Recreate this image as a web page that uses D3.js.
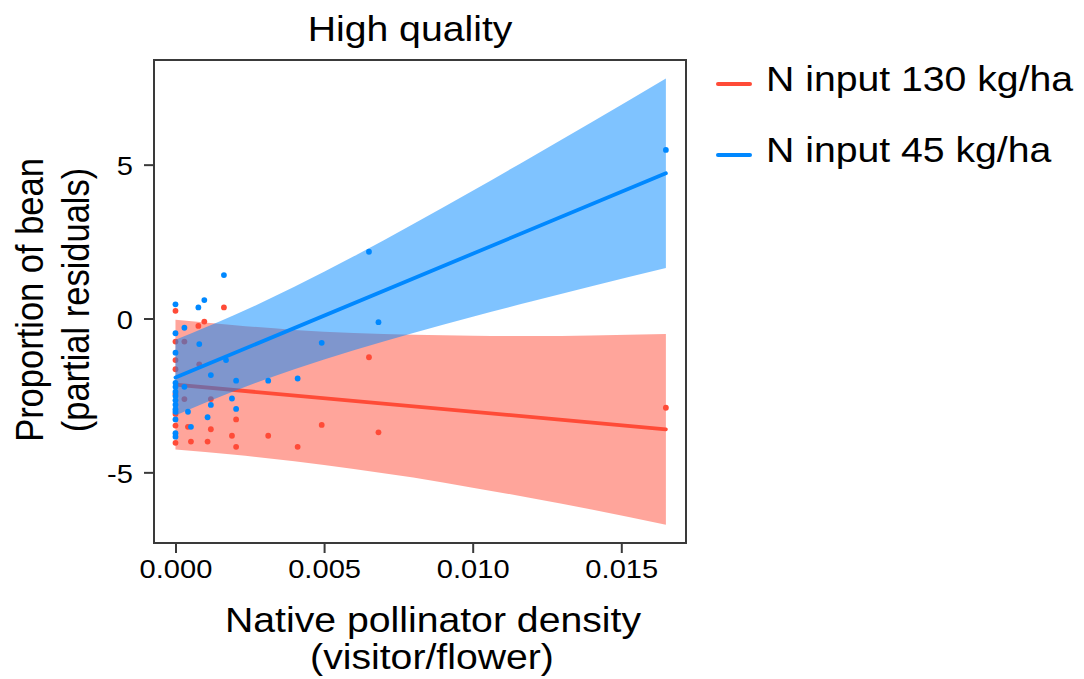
<!DOCTYPE html>
<html>
<head>
<meta charset="utf-8">
<script src="https://cdn.jsdelivr.net/npm/d3@7"></script>
<style>
  html, body { margin: 0; padding: 0; background: #ffffff; }
  svg { display: block; }
  text { font-family: "Liberation Sans", Arial, Helvetica, sans-serif; fill: #000; }
</style>
</head>
<body>
<svg id="chart" width="1084" height="679"></svg>
<script>
// ---- Data ----------------------------------------------------------------
const seriesNames = ["N input 130 kg/ha", "N input 45 kg/ha"];
const seriesColors = ["#FF4B37", "#0088FF"];

// Fitted lines over the observed density range
const fitX = [0, 0.0165];
const fitHigh = [-2.15, -3.60];   // N input 130 kg/ha
const fitLow = [-1.92, 4.72];     // N input 45 kg/ha

// Confidence band edges sampled along the density axis
const bandX = [0, 0.002, 0.004, 0.006, 0.008, 0.010, 0.012, 0.014, 0.0165];
const bandHighUpper = [-0.04, -0.22, -0.37, -0.47, -0.53, -0.56, -0.57, -0.55, -0.50];
const bandHighLower = [-4.26, -4.43, -4.64, -4.89, -5.17, -5.50, -5.84, -6.21, -6.70];
const bandLowUpper = [-0.69, 0.12, 1.03, 2.02, 3.07, 4.15, 5.26, 6.38, 7.80];
const bandLowLower = [-3.15, -2.35, -1.65, -1.03, -0.47, 0.06, 0.56, 1.05, 1.64];

// Partial residuals, N input 130 kg/ha
const highX = [0, 0, 0, 0, 0, 0, 0, 0,
  0.0003, 0.0003, 0.00042, 0.00052, 0.00077, 0.0008, 0.00097, 0.00108,
  0.00119, 0.00119, 0.00163, 0.0019, 0.00204, 0.00204, 0.00312, 0.00411,
  0.00492, 0.00651, 0.00683, 0.0165];
const highY = [0.25, -0.75, -1.35, -1.65, -2.45, -3.10, -3.48, -4.04,
  -0.75, -2.62, -3.52, -4.00, -0.24, -1.49, -0.10, -4.00,
  -2.62, -3.60, 0.36, -3.81, -3.28, -4.17, -3.81, -4.17,
  -3.46, -1.26, -3.70, -2.90];

// Partial residuals, N input 45 kg/ha
const lowX = [0, 0, 0, 0, 0, 0, 0, 0, 0, 0, 0, 0, 0, 0,
  0.0003, 0.0003, 0.00042, 0.00052, 0.00077, 0.0008, 0.00097, 0.00108,
  0.00119, 0.00119, 0.00163, 0.0017, 0.0019, 0.00204, 0.00204, 0.00312,
  0.00411, 0.00492, 0.00651, 0.00683, 0.0165];
const lowY = [0.46, -0.48, -1.11, -2.09, -2.22, -2.38, -2.52, -2.66, -2.80, -2.95, -3.03, -3.28, -3.73, -3.84,
  -0.30, -2.22, -3.03, -3.52, 0.36, -0.83, 0.60, -3.21,
  -1.84, -2.81, 1.41, -1.35, -2.60, -2.02, -2.94, -2.02,
  -1.95, -0.79, 2.17, -0.12, 5.48];

const xTicks = [0, 0.005, 0.010, 0.015];
const yTicks = [-5, 0, 5];

// ---- Layout --------------------------------------------------------------
const frame = { left: 154, right: 686, top: 60, bottom: 543 };
const stretch = 1.12;           // horizontal glyph stretch used for all labels
const axisColor = "#3a3a3a";

const svg = d3.select("#chart");

const x = d3.scaleLinear()
  .domain([-0.000723, 0.017177])
  .range([frame.left, frame.right]);
const y = d3.scaleLinear()
  .domain([-7.296, 8.401])
  .range([frame.bottom, frame.top]);

function label(parent, str, px, py, size, anchor) {
  return parent.append("text")
    .attr("transform", `translate(${px},${py}) scale(${stretch},1)`)
    .attr("text-anchor", anchor)
    .style("font-size", size + "px")
    .text(str);
}

const zipXY = (xs, ys) => xs.map((v, i) => [v, ys[i]]);

const area = d3.area()
  .x(d => x(d[0]))
  .y0(d => y(d[1]))
  .y1(d => y(d[2]))
  .curve(d3.curveMonotoneX);
const line = d3.line()
  .x(d => x(d[0]))
  .y(d => y(d[1]));

const series = [
  { color: seriesColors[0], band: bandX.map((v, i) => [v, bandHighLower[i], bandHighUpper[i]]),
    fit: zipXY(fitX, fitHigh), pts: zipXY(highX, highY) },
  { color: seriesColors[1], band: bandX.map((v, i) => [v, bandLowLower[i], bandLowUpper[i]]),
    fit: zipXY(fitX, fitLow), pts: zipXY(lowX, lowY) }
];

const plot = svg.append("g");

// Each group: band, fitted line, residual points (later group overlays earlier)
series.forEach(s => {
  plot.append("path")
    .datum(s.band)
    .attr("d", area)
    .attr("fill", s.color)
    .attr("fill-opacity", 0.5);
  plot.append("path")
    .datum(s.fit)
    .attr("d", line)
    .attr("fill", "none")
    .attr("stroke", s.color)
    .attr("stroke-width", 3.8)
    .attr("stroke-linecap", "round");
  plot.selectAll(null)
    .data(s.pts)
    .enter()
    .append("circle")
    .attr("cx", d => x(d[0]))
    .attr("cy", d => y(d[1]))
    .attr("r", 2.9)
    .attr("fill", s.color);
});

// Frame
svg.append("rect")
  .attr("x", frame.left)
  .attr("y", frame.top)
  .attr("width", frame.right - frame.left)
  .attr("height", frame.bottom - frame.top)
  .attr("fill", "none")
  .attr("stroke", axisColor)
  .attr("stroke-width", 2);

// Axes
const xAxis = d3.axisBottom(x)
  .tickValues(xTicks)
  .tickSize(10)
  .tickFormat(d3.format(".3f"));
const gx = svg.append("g")
  .attr("transform", `translate(0,${frame.bottom})`)
  .call(xAxis);
gx.select(".domain").remove();
gx.selectAll(".tick line").attr("stroke", axisColor).attr("stroke-width", 2);
gx.selectAll(".tick text")
  .attr("y", null).attr("dy", null)
  .attr("fill", "#000")
  .attr("font-family", null)
  .attr("transform", `translate(0,35) scale(${stretch},1)`)
  .style("font-size", "26px");

const yAxis = d3.axisLeft(y)
  .tickValues(yTicks)
  .tickSize(10)
  .tickFormat(d => String(d));
const gy = svg.append("g")
  .attr("transform", `translate(${frame.left},0)`)
  .call(yAxis);
gy.select(".domain").remove();
gy.selectAll(".tick line").attr("stroke", axisColor).attr("stroke-width", 2);
gy.selectAll(".tick text")
  .attr("x", null).attr("dy", null)
  .attr("fill", "#000")
  .attr("font-family", null)
  .attr("text-anchor", "end")
  .attr("transform", `translate(-21,10) scale(${stretch},1)`)
  .style("font-size", "26px");

// Titles
label(svg, "High quality", 410, 41, 35, "middle");
label(svg, "Native pollinator density", 433, 632, 35, "middle");
label(svg, "(visitor/flower)", 432, 669, 35, "middle");

const yTitle = svg.append("g")
  .attr("transform", `translate(0,300)`);
[["Proportion of bean", 43], ["(partial residuals)", 89]].forEach(([t, bx]) => {
  yTitle.append("text")
    .attr("transform", `translate(${bx},0) rotate(-90) scale(1,${stretch})`)
    .attr("text-anchor", "middle")
    .style("font-size", "34.5px")
    .text(t);
});

// Legend
const legend = svg.append("g");
const legendRows = [84, 155];
seriesNames.forEach((name, i) => {
  legend.append("line")
    .attr("x1", 718).attr("x2", 750)
    .attr("y1", legendRows[i]).attr("y2", legendRows[i])
    .attr("stroke", seriesColors[i])
    .attr("stroke-width", 4)
    .attr("stroke-linecap", "round");
  label(legend, name, 766, legendRows[i] + 6.5, 35, "start");
});
</script>
</body>
</html>
